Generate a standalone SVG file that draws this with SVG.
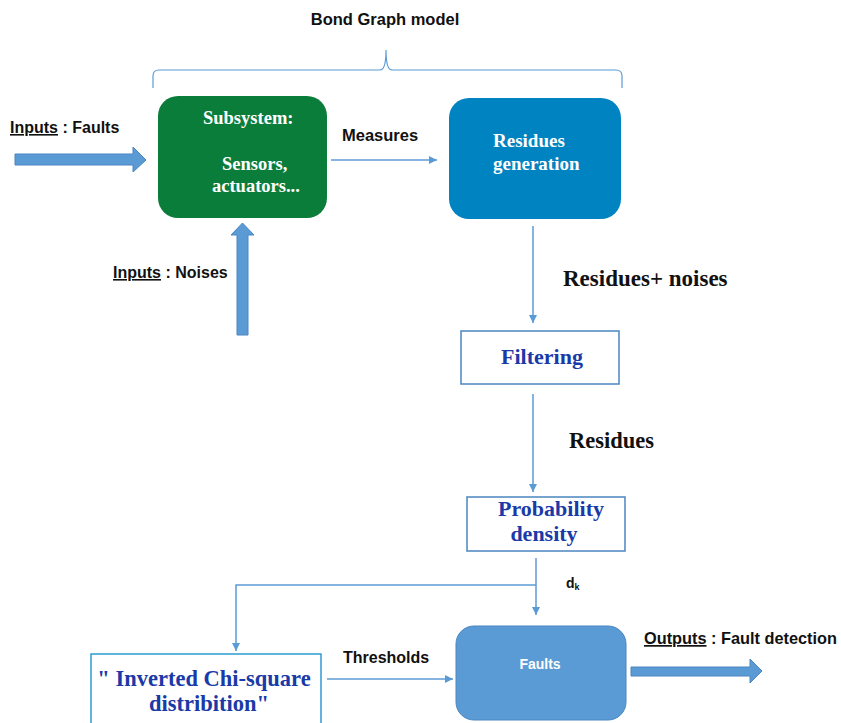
<svg xmlns="http://www.w3.org/2000/svg" width="841" height="723" viewBox="0 0 841 723">
<style>
.sans{font-family:"Liberation Sans",Arial,sans-serif;font-weight:bold;fill:#111}
.serif{font-family:"Liberation Serif","Times New Roman",serif;font-weight:bold}
.wt{fill:#fff}
.blk{fill:#111}
.dblue{fill:#1a3aa8}
.conn{stroke:#5b9bd5;stroke-width:1.5;fill:none}
.fat{fill:#5b9bd5;stroke:#4a86c0;stroke-width:1}
</style>
<defs>
<marker id="ah" viewBox="0 0 10 10" refX="10" refY="5" markerWidth="8" markerHeight="8" markerUnits="userSpaceOnUse" orient="auto">
<path d="M0,0 L10,5 L0,10 z" fill="#5b9bd5"/>
</marker>
</defs>
<rect width="841" height="723" fill="#fff"/>

<g id="bond-graph">
<text class="sans" x="385" y="25" font-size="16.5" text-anchor="middle">Bond Graph model</text>
<path d="M153,88 L153,76 Q153,70 159,70 L380,70 Q386,70 386,50 Q386,70 392,70 L616,70 Q622,70 622,76 L622,88" fill="none" stroke="#5b9bd5" stroke-width="1.2"/>
</g>

<g id="inputs-faults">
<text class="sans" x="10" y="133" font-size="16"><tspan text-decoration="underline">Inputs</tspan> : Faults</text>
<path class="fat" d="M15,154 L133,154 L133,147 L146,160 L133,172 L133,165 L15,165 z"/>
</g>

<g id="inputs-noises">
<text class="sans" x="113" y="278" font-size="16"><tspan text-decoration="underline">Inputs</tspan> : Noises</text>
<path class="fat" d="M237,335 L237,235 L231,235 L242.5,223 L254,235 L248,235 L248,335 z"/>
</g>

<g id="subsystem">
<rect x="158" y="96" width="169" height="122" rx="20" fill="#0b7d3b"/>
<text class="serif wt" x="203" y="124" font-size="18.5">Subsystem:</text>
<text class="serif wt" x="222" y="170" font-size="18.5">Sensors,</text>
<text class="serif wt" x="212" y="192" font-size="18.5">actuators...</text>
</g>

<g id="residues-generation">
<rect x="449" y="98" width="172" height="121" rx="20" fill="#0083c1"/>
<text class="serif wt" x="493" y="147" font-size="19">Residues</text>
<text class="serif wt" x="493" y="170" font-size="19">generation</text>
</g>

<g id="filtering">
<rect x="461" y="331" width="158" height="53" fill="#fff" stroke="#4a86c0" stroke-width="1.5"/>
<text class="serif dblue" x="542" y="364" font-size="22" text-anchor="middle">Filtering</text>
</g>

<g id="probability-density">
<rect x="467" y="497" width="158" height="54" fill="#fff" stroke="#4a86c0" stroke-width="1.5"/>
<text class="serif dblue" x="551" y="516" font-size="22" text-anchor="middle">Probability</text>
<text class="serif dblue" x="544" y="541" font-size="22" text-anchor="middle">density</text>
</g>

<g id="chi-square">
<rect x="91" y="654" width="230" height="80" fill="#fff" stroke="#2e9ad6" stroke-width="1.5"/>
<text class="serif dblue" x="204" y="686" font-size="22.5" text-anchor="middle">" Inverted Chi-square</text>
<text class="serif dblue" x="209" y="711" font-size="22.5" text-anchor="middle">distribition"</text>
</g>

<g id="faults">
<rect x="456" y="626" width="170" height="94" rx="18" fill="#5b9bd5" stroke="#4a86c0" stroke-width="1"/>
<text class="sans wt" x="540" y="669" font-size="14" text-anchor="middle" style="fill:#fff">Faults</text>
</g>

<g id="outputs">
<text class="sans" x="644" y="644" font-size="17" textLength="193" lengthAdjust="spacingAndGlyphs"><tspan text-decoration="underline">Outputs</tspan> : Fault detection</text>
<path class="fat" d="M631,667 L750,667 L750,659 L762,671 L750,683 L750,676 L631,676 z"/>
</g>

<g id="connectors">
<line class="conn" x1="331" y1="160" x2="437" y2="160" marker-end="url(#ah)"/>
<text class="sans" x="342" y="141" font-size="16.5">Measures</text>
<line class="conn" x1="533" y1="226" x2="533" y2="323" marker-end="url(#ah)"/>
<text class="serif blk" x="563" y="286" font-size="23">Residues+ noises</text>
<line class="conn" x1="533" y1="394" x2="533" y2="492" marker-end="url(#ah)"/>
<text class="serif blk" x="569" y="448" font-size="22.5">Residues</text>
<line class="conn" x1="536" y1="558" x2="536" y2="615" marker-end="url(#ah)"/>
<polyline class="conn" points="536,585 236,585 236,651" marker-end="url(#ah)"/>
<text class="sans" x="566" y="588" font-size="14">d<tspan font-size="9" dy="2">k</tspan></text>
<line class="conn" x1="327" y1="679" x2="453" y2="679" marker-end="url(#ah)"/>
<text class="sans" x="343" y="663" font-size="16">Thresholds</text>
</g>
</svg>
